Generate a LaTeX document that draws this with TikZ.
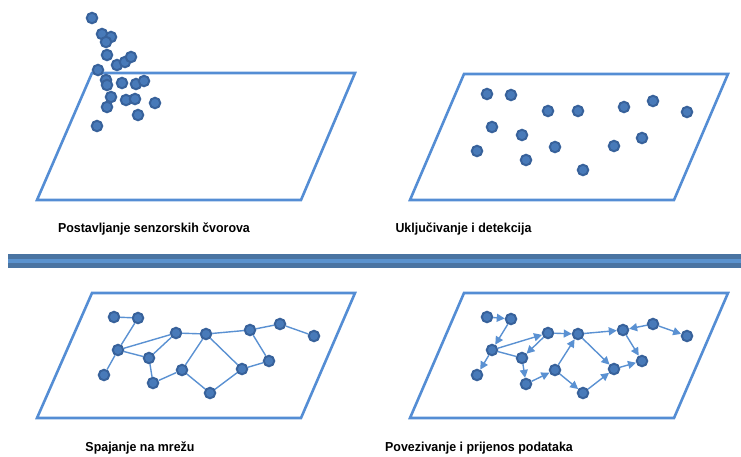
\documentclass[tikz,border=0pt]{standalone}
\usepackage{fontspec}
\setmainfont{Liberation Sans}
\usetikzlibrary{arrows.meta}
\definecolor{framec}{RGB}{84,141,212}
\definecolor{dotin}{RGB}{72,122,185}
\definecolor{dotout}{RGB}{56,98,155}
\definecolor{edgec}{RGB}{90,145,210}
\definecolor{sepdark}{RGB}{74,116,162}
\definecolor{seplight}{RGB}{91,147,207}
\newcommand\mylabel[1]{\scalebox{0.955}[1]{#1}}
\begin{document}
\begin{tikzpicture}[x=1pt,y=-1pt,
  dot/.style={circle,minimum size=10.5pt,inner sep=0pt,fill=dotin,draw=dotout,line width=2pt},
  link/.style={draw=edgec,line width=1.4pt},
  arr/.style={link,-{Triangle[length=8pt,width=8pt]}},
  plane/.style={draw=framec,line width=2.6pt,line join=miter},
  lab/.style={font=\bfseries\fontsize{13}{15}\selectfont,anchor=base,inner sep=0pt}]
\useasboundingbox (0,0) rectangle (741,456);

% planes
\draw[plane] (92,73) -- (355,73) -- (301,200) -- (37,200) -- cycle;
\draw[plane] (464,74) -- (728,74) -- (674,200) -- (410,200) -- cycle;
\draw[plane] (92,293) -- (355,293) -- (301,418) -- (37,418) -- cycle;
\draw[plane] (464,293) -- (728,293) -- (674,418) -- (410,418) -- cycle;

% separator
\fill[sepdark] (8,254) rectangle (741,267.5);
\fill[seplight] (8,258.5) rectangle (741,263);

% top-left: scattered dots
\foreach \n/\x/\y in {1/92/18,2/102/34,3/111/37,4/106/42,5/107/55,6/117/65,7/125/62,8/131/57,
  9/98/70,10/106/80,11/107/85,12/122/83,13/136/84,14/144/81,15/111/97,16/126/100,
  17/135/99,18/155/103,19/107/107,20/138/115,21/97/126}
  \node[dot] (t\n) at (\x,\y) {};

% top-right: deployed dots
\foreach \n/\x/\y in {1/487/94,2/511/95,3/548/111,4/578/111,5/624/107,6/653/101,7/687/112,
  8/492/127,9/522/135,10/555/147,11/614/146,12/642/138,13/477/151,14/526/160,15/583/170}
  \node[dot] (u\n) at (\x,\y) {};

% bottom-left network
\foreach \n/\x/\y in {a/114/317,b/138/318,c/118/350,d/104/375,e/149/358,f/176/333,g/206/334,
  h/153/383,i/182/370,j/210/393,k/242/369,l/269/361,m/250/330,n/280/324,o/314/336}
  \node[dot] (p\n) at (\x,\y) {};
\foreach \s/\t in {a/b,b/c,c/d,c/f,c/e,e/f,e/h,h/i,i/g,f/g,g/k,g/m,m/n,n/o,m/l,l/k,k/j,j/i}
  \draw[link] (p\s) -- (p\t);

% bottom-right network with data flow
\foreach \n/\x/\y in {a/487/317,b/511/319,c/492/350,d/477/375,e/522/358,f/548/333,g/578/334,
  h/526/384,i/555/370,j/583/393,k/614/369,l/642/361,m/623/330,n/653/324,o/687/336}
  \node[dot] (q\n) at (\x,\y) {};
\draw[link] (qc) -- (qe);
\foreach \s/\t in {a/b,b/c,c/d,c/f,f/e,e/h,h/i,i/g,f/g,g/m,n/m,n/o,m/l,g/k,i/j,j/k,k/l}
  \draw[arr] (q\s) -- (q\t);

% labels
\node[lab] (l1) at (154,232) {\mylabel{Postavljanje senzorskih čvorova}};
\node[lab] (l2) at (463.5,232) {\mylabel{Uključivanje i detekcija}};
\node[lab] (l3) at (140,451) {\mylabel{Spajanje na mrežu}};
\node[lab] (l4) at (479,451) {\mylabel{Povezivanje i prijenos podataka}};
\end{tikzpicture}
\end{document}
